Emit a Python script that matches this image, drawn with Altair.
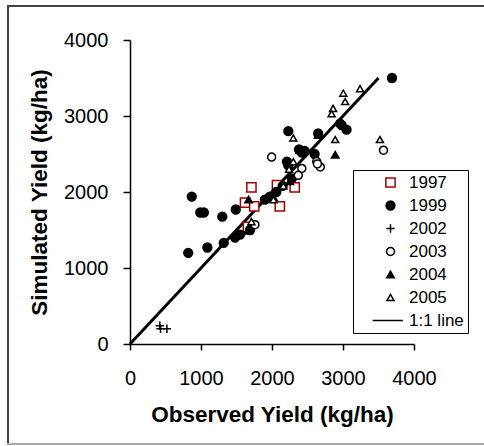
import altair as alt
import pandas as pd

series_names = ["1997", "1999", "2002", "2003", "2004", "2005", "1:1 line"]

obs_1997 = [1710, 1620, 1750, 1660, 2070, 2110, 2320]
sim_1997 = [2060, 1860, 1810, 1540, 2090, 1810, 2060]

obs_1999 = [870, 990, 1040, 1300, 1490, 820, 1090, 1320, 1550, 1480, 1690, 2230, 2210, 2230,
            3690, 3050, 2980, 2380, 2420, 2460, 2650, 2960, 1970, 1900, 2060, 2150, 2280, 2600]
sim_1999 = [1940, 1730, 1730, 1675, 1770, 1200, 1270, 1330, 1440, 1400, 1500, 2800, 2400, 2350,
            3500, 2820, 2880, 2560, 2520, 2540, 2770, 2900, 1940, 1900, 2000, 2080, 2180, 2500]

obs_2002 = [420, 430, 520]
sim_2002 = [240, 200, 200]

obs_2003 = [1995, 3570, 2630, 2680, 2420, 2370, 1760, 2640]
sim_2003 = [2460, 2550, 2400, 2330, 2310, 2220, 1570, 2370]

obs_2004 = [1670, 2890, 2250, 2020, 1660, 2390, 2650]
sim_2004 = [1900, 2490, 2140, 1930, 1490, 2550, 2750]

obs_2005 = [2300, 2890, 3520, 3240, 3005, 3030, 2860, 2840, 1710, 2020, 2160, 2300, 2240]
sim_2005 = [2710, 2690, 2690, 3360, 3300, 3190, 3100, 3030, 1610, 1900, 2080, 2400, 2300]

line_obs = [0, 3500]
line_sim = [0, 3500]

shape_range = ["square", "circle", "M-1,0H1M0,-1V1", "circle", "triangle-up", "triangle-up",
               "M-5.5,0H3.8"]
stroke_range = ["#A00000", "black", "black", "black", "black", "black", "black"]
fill_range = ["white", "black", "transparent", "white", "black", "white", "transparent"]
size_range = [85, 42, 60, 40, 95, 95, 64]

rows = []
for name, xs_, ys_ in [("1997", obs_1997, sim_1997), ("1999", obs_1999, sim_1999),
                       ("2002", obs_2002, sim_2002), ("2003", obs_2003, sim_2003),
                       ("2004", obs_2004, sim_2004), ("2005", obs_2005, sim_2005)]:
    for a, b in zip(xs_, ys_):
        rows.append({"Observed": a, "Simulated": b, "Series": name})
points_df = pd.DataFrame(rows)
line_df = pd.DataFrame({"Observed": line_obs, "Simulated": line_sim})
dummy = pd.DataFrame({"k": [0]})

FONT = "Liberation Sans"

x_axis = alt.Axis(values=[0, 1000, 2000, 3000, 4000], format="d", grid=False, tickSize=6,
                  tickWidth=1.5, domainWidth=1.5, domainColor="black", tickColor="black",
                  labelFont=FONT, labelFontSize=20, labelColor="black", labelPadding=18,
                  labelFlush=False,
                  title="Observed Yield (kg/ha)", titleFont=FONT, titleFontSize=22.5,
                  titleFontWeight="bold", titleColor="black", titlePadding=15)
y_axis = alt.Axis(values=[0, 1000, 2000, 3000, 4000], format="d", grid=False, tickSize=7,
                  tickWidth=1.5, domainWidth=1.5, domainColor="black", tickColor="black",
                  labelFont=FONT, labelFontSize=20, labelColor="black", labelPadding=15,
                  labelFlush=False,
                  title="Simulated Yield (kg/ha)", titleFont=FONT, titleFontSize=22.5,
                  titleFontWeight="bold", titleColor="black", titlePadding=12)

xs = alt.Scale(domain=[0, 4000], nice=False)
ys = alt.Scale(domain=[0, 4000], nice=False)

legend = alt.Legend(title=None, orient="none", legendX=223, legendY=130,
                    fillColor="white", strokeColor="black", padding=4,
                    labelFont=FONT, labelFontSize=17, labelColor="black",
                    symbolOffset=25, labelOffset=10, rowPadding=5)

frame_top = alt.Chart(dummy).mark_rule(color="#444444", strokeWidth=2).encode(
    x=alt.value(-123), x2=alt.value(354), y=alt.value(-34))
frame_left = alt.Chart(dummy).mark_rule(color="#444444", strokeWidth=2).encode(
    x=alt.value(-122), y=alt.value(-35), y2=alt.value(405))
frame_bottom = alt.Chart(dummy).mark_rule(color="#aaaaaa", strokeWidth=2).encode(
    x=alt.value(-123), x2=alt.value(354), y=alt.value(404))

line = alt.Chart(line_df).mark_line(color="black", strokeWidth=3).encode(
    x=alt.X("Observed:Q", scale=xs, axis=x_axis),
    y=alt.Y("Simulated:Q", scale=ys, axis=y_axis))

points = alt.Chart(points_df).mark_point(opacity=1, strokeWidth=1.5).encode(
    x=alt.X("Observed:Q", scale=xs, axis=x_axis),
    y=alt.Y("Simulated:Q", scale=ys, axis=y_axis),
    shape=alt.Shape("Series:N", scale=alt.Scale(domain=series_names, range=shape_range), legend=legend),
    stroke=alt.Stroke("Series:N", scale=alt.Scale(domain=series_names, range=stroke_range), legend=legend),
    fill=alt.Fill("Series:N", scale=alt.Scale(domain=series_names, range=fill_range), legend=legend),
    size=alt.Size("Series:N", scale=alt.Scale(domain=series_names, range=size_range), legend=legend),
)

chart = alt.layer(frame_top, frame_left, frame_bottom, line, points).properties(
    width=284, height=304,
    autosize=alt.AutoSizeParams(type="none"),
    padding={"left": 130, "top": 40, "right": 70, "bottom": 102},
    background="white",
).configure_view(strokeWidth=0)

chart.save("out.html", embed_options={"renderer": "svg", "actions": False})
